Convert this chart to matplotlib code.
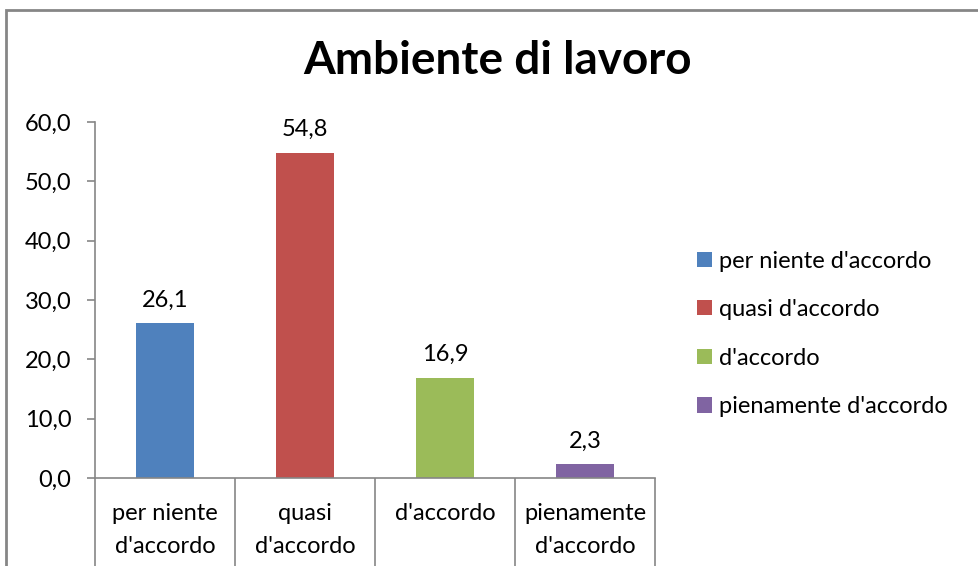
import numpy as np
import matplotlib.pyplot as plt
from matplotlib.patches import Rectangle, Patch

categories = ["per niente\nd'accordo", "quasi\nd'accordo", "d'accordo", "pienamente\nd'accordo"]
legend_labels = ["per niente d'accordo", "quasi d'accordo", "d'accordo", "pienamente d'accordo"]
values = [26.1, 54.8, 16.9, 2.3]
colors = ["#4F81BD", "#C0504D", "#9BBB59", "#8064A2"]
yticks = [0, 10, 20, 30, 40, 50, 60]

plt.rcParams['font.family'] = ['Lato', 'DejaVu Sans']
grey = "#868686"
fs = 17

fig = plt.figure(figsize=(9.79, 5.66), dpi=100)
ax = fig.add_axes([0.097, 0.1555, 0.572, 0.629])

x = np.arange(len(values))
bars = ax.bar(x, values, width=0.41, color=colors, zorder=2)
for xi, v in zip(x, values):
    ax.annotate(f"{v:.1f}".replace(".", ","), (xi, v), xytext=(0, 9),
                textcoords="offset points", ha="center", va="bottom", fontsize=fs)

ax.set_xlim(-0.5, len(values) - 0.5)
ax.set_ylim(0, 60)
ax.set_yticks(yticks)
ax.set_yticklabels([f"{t:.1f}".replace(".", ",") for t in yticks], fontsize=fs)
ax.set_xticks(x)
ax.set_xticklabels(categories, fontsize=fs, linespacing=1.7)
ax.set_xticks(np.arange(len(values) + 1) - 0.5, minor=True)
ax.tick_params(axis="x", which="major", length=0, pad=18)
ax.tick_params(axis="x", which="minor", length=70, color=grey, width=1.2)
ax.tick_params(axis="y", length=6, color=grey, width=1.2, pad=11)

for s in ["top", "right"]:
    ax.spines[s].set_visible(False)
for s in ["left", "bottom"]:
    ax.spines[s].set_color(grey)
    ax.spines[s].set_linewidth(1.2)

fig.text(0.508, 0.893, "Ambiente di lavoro", ha="center", va="center",
         fontsize=33, fontweight="bold")

handles = [Patch(facecolor=c, edgecolor="none") for c in colors]
fig.legend(handles, legend_labels, loc="center left", bbox_to_anchor=(0.7, 0.41),
           frameon=False, fontsize=fs, borderpad=0, handlelength=0.62, handleheight=0.62,
           handletextpad=0.3, labelspacing=1.17)

fig.add_artist(Rectangle((0.0061, -0.02), 1.1, 0.9823 + 0.02, transform=fig.transFigure,
                         fill=False, edgecolor=grey, linewidth=2))

fig.savefig("out.png", dpi=100)
